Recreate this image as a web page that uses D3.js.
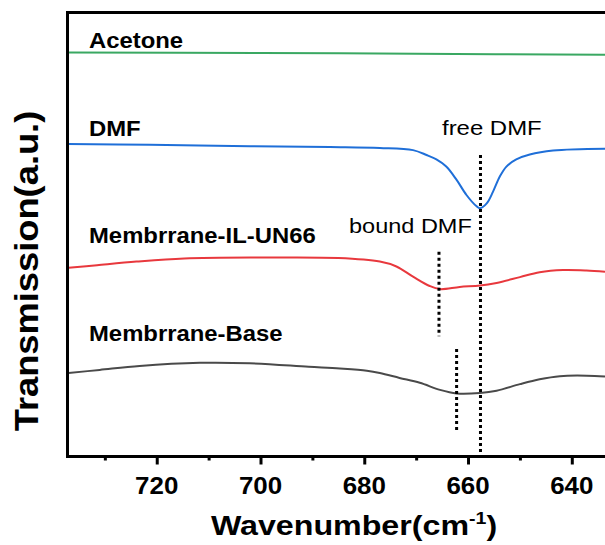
<!DOCTYPE html>
<html>
<head>
<meta charset="utf-8">
<script src="https://cdn.jsdelivr.net/npm/d3@7"></script>
<style>
  html, body { margin: 0; padding: 0; background: #fff; }
  svg { display: block; }
  text { font-family: "Liberation Sans", Arial, sans-serif; }
</style>
</head>
<body>
<div id="chart"></div>
<script>
// ---------- data ----------
const xTicks = [720, 700, 680, 660, 640];
const xMinorTicks = [730, 710, 690, 670, 650];
const seriesNames = ["Acetone", "DMF", "Membrrane-IL-UN66", "Membrrane-Base"];
const seriesColors = ["#3aa862", "#1f6fd8", "#e8383d", "#4a4a4a"];

const acetoneWN = [737.2, 700, 670, 633.6];
const acetoneT  = [91.0, 90.9, 90.7, 90.5];

const dmfWN = [737.2, 721.3, 702, 686.6, 677, 670.6, 668.0, 666.1, 664.2, 662.2, 660.3, 658.4, 657.7, 656.4, 655.2, 653.9, 652.6, 650.7, 648.1, 643.6, 633.6];
const dmfT  = [70.4, 70.2, 69.9, 69.7, 69.5, 69.0, 67.9, 66.9, 65.3, 62.3, 58.9, 56.4, 55.9, 57.0, 59.6, 63.0, 65.3, 66.9, 68.0, 68.9, 69.3];

const ilWN = [737.0, 731.5, 723.9, 714.7, 700, 685, 677.0, 673.8, 670.6, 667.4, 665.4, 661.6, 657.7, 654.5, 650.0, 646.2, 641.7, 637.2, 633.6];
const ilT  = [42.5, 43.1, 43.9, 44.6, 44.8, 44.7, 43.9, 42.8, 40.5, 38.4, 37.7, 38.2, 38.5, 39.1, 40.4, 41.5, 42.0, 41.9, 41.6];

const baseWN = [737.0, 731.0, 723.3, 711.7, 702.1, 690.7, 684.7, 679.5, 677.0, 673.2, 669.3, 665.4, 662.2, 657.7, 654.5, 650.0, 646.2, 642.3, 637.1, 633.6];
const baseT  = [18.8, 19.5, 20.4, 21.1, 21.0, 20.2, 19.8, 19.3, 18.8, 17.7, 16.6, 15.0, 14.2, 14.3, 14.8, 16.3, 17.4, 18.1, 18.2, 18.0];

// dotted marker lines: wavenumber, top and bottom (a.u.)
const markerWN  = [657.6, 665.6, 662.2];
const markerTop = [67.9, 46.1, 24.2];
const markerBot = [0, 27.1, 5.3];

const annotations = ["free DMF", "bound DMF"];

// ---------- layout ----------
const W = 605, H = 545;
const pLeft = 67.5, pTop = 12.5, pBottom = 456.5, pRight = 605;

const svg = d3.select("#chart").append("svg").attr("width", W).attr("height", H);

const x = d3.scaleLinear().domain([737.2, 633.6]).range([pLeft, pRight]);
const y = d3.scaleLinear().domain([0, 100]).range([pBottom, pTop]);

const series = [
  { wn: acetoneWN, t: acetoneT },
  { wn: dmfWN, t: dmfT },
  { wn: ilWN, t: ilT },
  { wn: baseWN, t: baseT }
];

const line = d3.line()
  .x(d => x(d[0]))
  .y(d => y(d[1]))
  .curve(d3.curveCatmullRom.alpha(0.5));

const plot = svg.append("g");
plot.append("clipPath").attr("id", "clip").append("rect")
  .attr("x", pLeft).attr("y", pTop).attr("width", pRight - pLeft).attr("height", pBottom - pTop);

const lines = plot.append("g").attr("clip-path", "url(#clip)");
series.forEach((s, i) => {
  lines.append("path")
    .datum(s.wn.map((w, k) => [w, s.t[k]]))
    .attr("fill", "none")
    .attr("stroke", seriesColors[i])
    .attr("stroke-width", 2)
    .attr("stroke-linejoin", "round")
    .attr("d", line);
});

// dotted markers
markerWN.forEach((w, i) => {
  plot.append("line")
    .attr("x1", x(w)).attr("x2", x(w))
    .attr("y1", y(markerTop[i])).attr("y2", y(markerBot[i]))
    .attr("stroke", "#000")
    .attr("stroke-width", 3)
    .attr("stroke-dasharray", "3,3");
});

// frame (top and left); right edge lies outside the window
svg.append("line").attr("x1", pLeft).attr("x2", W + 5).attr("y1", pTop).attr("y2", pTop)
  .attr("stroke", "#000").attr("stroke-width", 3);
svg.append("line").attr("x1", pLeft).attr("x2", pLeft).attr("y1", pTop - 1.5).attr("y2", pBottom + 1.5)
  .attr("stroke", "#000").attr("stroke-width", 3);

// x axis
const xAxis = d3.axisBottom(x).tickValues(xTicks).tickSize(8).tickPadding(12).tickFormat(d3.format("d"));
const gx = svg.append("g").attr("transform", `translate(0,${pBottom})`).call(xAxis);
gx.select(".domain").remove();
gx.selectAll(".tick line").attr("stroke", "#000").attr("stroke-width", 3);
gx.selectAll(".tick text").remove();
svg.append("line").attr("x1", pLeft - 1.5).attr("x2", W + 5).attr("y1", pBottom).attr("y2", pBottom)
  .attr("stroke", "#000").attr("stroke-width", 3);

const xMinor = d3.axisBottom(x).tickValues(xMinorTicks).tickSize(4).tickFormat("");
const gxm = svg.append("g").attr("transform", `translate(0,${pBottom})`).call(xMinor);
gxm.select(".domain").remove();
gxm.selectAll(".tick line").attr("stroke", "#000").attr("stroke-width", 3);

// stretched text helper (the reference text is slightly wide)
function addText(str, tx, ty, size, weight, sx, anchor) {
  const g = svg.append("g").attr("transform", `translate(${tx},${ty}) scale(${sx},1)`);
  return g.append("text")
    .attr("x", 0).attr("y", 0)
    .attr("font-size", size)
    .attr("font-weight", weight)
    .attr("text-anchor", anchor || "start")
    .attr("fill", "#000")
    .text(str);
}

// tick labels
xTicks.forEach(t => addText(d3.format("d")(t), x(t), 494, 24, "bold", 1.08, "middle"));

// series labels
const labelY = [48, 136, 243, 341];
seriesNames.forEach((n, i) => addText(n, 89, labelY[i], 21.5, "bold", 1.11, "start"));

// annotations
addText(annotations[0], 442, 135, 21, "normal", 1.14, "start");
addText(annotations[1], 349, 233, 21, "normal", 1.12, "start");

// x title
const xt = svg.append("g").attr("transform", `translate(354,535) scale(1.15,1)`)
  .append("text").attr("text-anchor", "middle").attr("font-size", 28).attr("font-weight", "bold").attr("fill", "#000");
xt.append("tspan").text("Wavenumber(cm");
xt.append("tspan").attr("font-size", 17).attr("dy", -11).text("-1");
xt.append("tspan").attr("dy", 11).text(")");

// y title
svg.append("g").attr("transform", `translate(38,271) rotate(-90) scale(1.1,1)`)
  .append("text").attr("text-anchor", "middle").attr("font-size", 33).attr("font-weight", "bold").attr("fill", "#000")
  .text("Transmission(a.u.)");
</script>
</body>
</html>
